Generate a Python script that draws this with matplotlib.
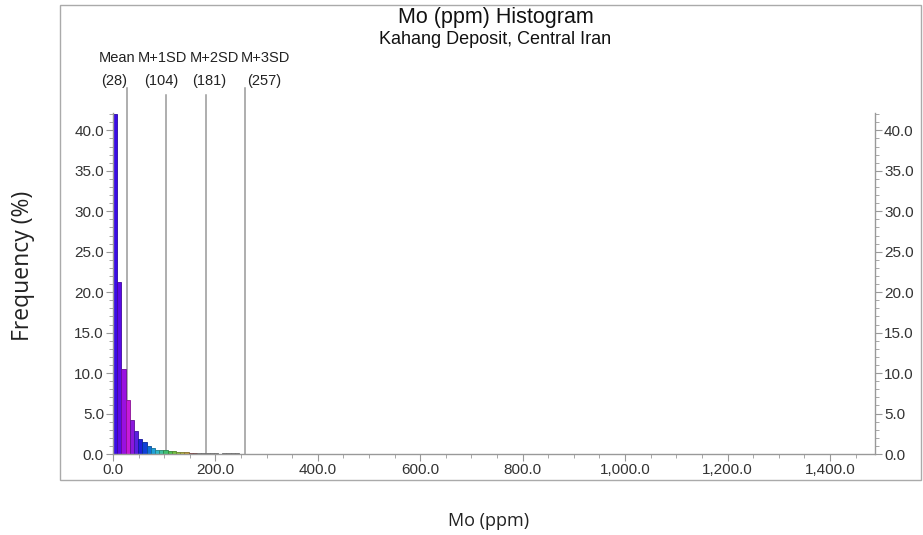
import matplotlib
matplotlib.use("Agg")
import matplotlib.pyplot as plt
from matplotlib.ticker import MultipleLocator, FuncFormatter
from matplotlib.patches import Rectangle
import matplotlib.transforms as mtransforms

# ---- data ----
bin_width = 8.2
freq = [42.0, 21.3, 10.5, 6.7, 4.2, 2.8, 1.9, 1.5, 0.95, 0.8,
        0.55, 0.5, 0.45, 0.4, 0.35, 0.3, 0.3, 0.25, 0.1, 0.1,
        0.1, 0.08, 0.1, 0.08, 0.1, 0.05, 0.08, 0.08, 0.1, 0.08,
        0.05, 0.06, 0.05, 0.0, 0.05, 0.0, 0.05, 0.06, 0.0, 0.0,
        0.05, 0.0, 0.05, 0.0, 0.0, 0.0, 0.05, 0.0]
colors = ['#3a0ce6', '#5a0ae6', '#9a10e0', '#c81ad8', '#8a18dc', '#5a20e0',
          '#2020dc', '#1040d8', '#1070d8', '#20a0d8', '#30b8c8', '#40c0a0',
          '#40c070', '#50c050', '#70c040', '#90c040', '#b0b040', '#c0a040',
          '#a05050', '#905858']
edge_colors = ['#2a0aa0', '#40089e', '#6a0a9a', '#8a1294', '#601096', '#3e169c',
               '#16169a', '#0a2c96', '#0a4e96', '#167098', '#22808c', '#2c8670',
               '#2c864e', '#388638', '#4e862c', '#64862c', '#7c7c2c', '#86702c',
               '#703838', '#643e3e']
stat_names = ["Mean", "M+1SD", "M+2SD", "M+3SD"]
stat_values = [28, 104, 181, 257]
x_max = 1488
y_max = 42.15

W, H = 923, 535
fig = plt.figure(figsize=(W / 100, H / 100), dpi=100)
plt.rcParams['font.family'] = ['Liberation Sans', 'DejaVu Sans']

ax = fig.add_axes([113 / W, (H - 454) / H, (875 - 113) / W, (454 - 113) / H])

left_edges = [i * bin_width for i in range(len(freq))]
bar_colors = [colors[i] if i < len(colors) else '#8a8a8a' for i in range(len(freq))]
bar_edges = [edge_colors[i] if i < len(edge_colors) else '#666666' for i in range(len(freq))]
ax.bar(left_edges, freq, width=bin_width, align='edge', color=bar_colors,
       edgecolor=bar_edges, linewidth=0.6, zorder=2)

ax.set_xlim(0, x_max)
ax.set_ylim(0, y_max)

# statistic lines extending above the plot
trans = mtransforms.blended_transform_factory(ax.transData, ax.transAxes)
tops = [1.073, 1.052, 1.052, 1.073]
for v, t in zip(stat_values, tops):
    ax.plot([v, v], [0, t], transform=trans, color='#999999', lw=1.1,
            clip_on=False, zorder=1)

# labels for stats (pixel centers in figure)
name_px = [117, 162, 214, 265]
val_px = [114, 161, 209, 264]
for n, v, xn, xv in zip(stat_names, stat_values, name_px, val_px):
    fig.text(xn / W, 1 - 58 / H, n, ha='center', va='center', fontsize=10.5, color='#222222')
    fig.text(xv / W, 1 - 81 / H, f"({v})", ha='center', va='center', fontsize=10.5, color='#222222')

# spines
ax.spines['top'].set_visible(False)
for s in ['left', 'right', 'bottom']:
    ax.spines[s].set_color('#999999')
    ax.spines[s].set_linewidth(1.0)

fmt = FuncFormatter(lambda v, p: f"{v:,.1f}")
ax.xaxis.set_major_locator(MultipleLocator(200))
ax.xaxis.set_minor_locator(MultipleLocator(50))
ax.yaxis.set_major_locator(MultipleLocator(5))
ax.yaxis.set_minor_locator(MultipleLocator(1))
ax.xaxis.set_major_formatter(fmt)
ax.yaxis.set_major_formatter(fmt)
ax.tick_params(axis='both', which='major', length=5, color='#999999',
               labelsize=11, labelcolor='#333333', pad=1.5)
ax.tick_params(axis='both', which='minor', length=3, color='#999999')
ax.tick_params(axis='y', which='both', left=True, right=True, labelleft=True, labelright=True)

# titles
fig.text(496 / W, 1 - 18 / H, "Mo (ppm) Histogram", ha='center', va='center', fontsize=15.5, color='#111111')
fig.text(495 / W, 1 - 40 / H, "Kahang Deposit, Central Iran", ha='center', va='center', fontsize=13, color='#111111')

# outer frame
fig.patches.append(Rectangle((60 / W, 1 - 480 / H), (921 - 60) / W, (480 - 5) / H,
                             transform=fig.transFigure, fill=False, edgecolor='#aaaaaa', lw=1.0))

# outer axis titles
fig.text(23 / W, 1 - 266 / H, "Frequency (%)", rotation=90, ha='center', va='center',
         fontsize=16.5, color='#222222', family=['Open Sans', 'DejaVu Sans'])
fig.text(489 / W, 1 - 521 / H, "Mo (ppm)", ha='center', va='center',
         fontsize=13, color='#222222', family=['Open Sans', 'DejaVu Sans'])

fig.savefig("out.png", dpi=100)
